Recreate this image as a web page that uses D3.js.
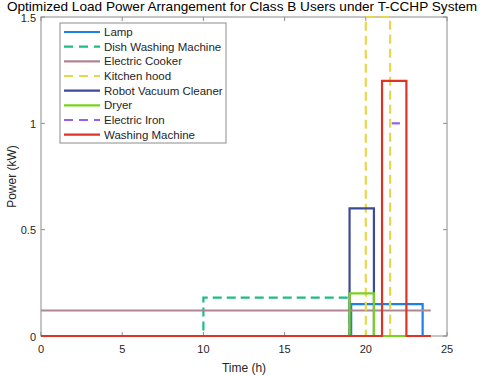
<!DOCTYPE html>
<html>
<head>
<meta charset="utf-8">
<script src="https://cdn.jsdelivr.net/npm/d3@7"></script>
<style>
  body { margin: 0; background: #fff; }
  text { font-family: "Liberation Sans", Arial, sans-serif; fill: #262626; }
</style>
</head>
<body>
<div id="chart"></div>
<script>
// series as step breakpoints (time in h, power in kW)
var names = ["Lamp", "Dish Washing Machine", "Electric Cooker", "Kitchen hood",
             "Robot Vacuum Cleaner", "Dryer", "Electric Iron", "Washing Machine"];
var colors = ["#1a80ec", "#1fb98a", "#b08594", "#e8d64c", "#3d4a9c", "#78d31f", "#9b5cf0", "#df3324"];
var dashed = [false, true, false, true, false, false, true, false];

var lampT = [0, 19.1, 23.5, 24],   lampP = [0, 0.15, 0, 0];
var dishT = [0, 10, 19],           dishP = [0, 0.18, 0];
var cookerT = [0, 24],             cookerP = [0.12, 0.12];
var hoodT = [0, 20, 21.5, 24],     hoodP = [0, 1.5, 0, 0];
var robotT = [0, 19, 20.5, 24],    robotP = [0, 0.6, 0, 0];
var dryerT = [0, 19, 20.5, 24],    dryerP = [0, 0.2, 0, 0];
var ironT = [21.6, 22.1],          ironP = [1, 1];
var washT = [0, 21, 22.5, 24],     washP = [0, 1.2, 0, 0];

var times = [lampT, dishT, cookerT, hoodT, robotT, dryerT, ironT, washT];
var powers = [lampP, dishP, cookerP, hoodP, robotP, dryerP, ironP, washP];

var xTicks = [0, 5, 10, 15, 20, 25];
var yTicks = [0, 0.5, 1, 1.5];

var margin = {top: 17, right: 37, bottom: 41, left: 41},
    W = 484, H = 377,
    width = W - margin.left - margin.right,
    height = H - margin.top - margin.bottom;

var svg = d3.select("#chart").append("svg")
    .attr("width", W).attr("height", H);

var g = svg.append("g")
    .attr("transform", "translate(" + margin.left + "," + margin.top + ")");

var x = d3.scaleLinear().domain([0, 25]).range([0, width]);
var y = d3.scaleLinear().domain([0, 1.5]).range([height, 0]);

// box
g.append("rect")
    .attr("width", width).attr("height", height)
    .attr("fill", "none").attr("stroke", "#8c8c8c").attr("stroke-width", 1);

// ticks on all sides, pointing inward
var tickLen = 4;
xTicks.forEach(function(t) {
    g.append("line").attr("x1", x(t)).attr("x2", x(t)).attr("y1", height).attr("y2", height - tickLen).attr("stroke", "#8c8c8c");
    g.append("line").attr("x1", x(t)).attr("x2", x(t)).attr("y1", 0).attr("y2", tickLen).attr("stroke", "#8c8c8c");
    g.append("text").attr("x", x(t)).attr("y", height + 17)
        .attr("text-anchor", "middle").style("font-size", "11px").text(t);
});
yTicks.forEach(function(t) {
    g.append("line").attr("x1", 0).attr("x2", tickLen).attr("y1", y(t)).attr("y2", y(t)).attr("stroke", "#8c8c8c");
    g.append("line").attr("x1", width).attr("x2", width - tickLen).attr("y1", y(t)).attr("y2", y(t)).attr("stroke", "#8c8c8c");
    g.append("text").attr("x", -5).attr("y", y(t) + 4.5)
        .attr("text-anchor", "end").style("font-size", "11px").text(t);
});

// the load curves
var line = d3.line()
    .x(function(d) { return x(d[0]); })
    .y(function(d) { return y(d[1]); })
    .curve(d3.curveStepAfter);

names.forEach(function(n, i) {
    var pts = times[i].map(function(t, k) { return [t, powers[i][k]]; });
    g.append("path")
        .attr("d", line(pts))
        .attr("fill", "none")
        .attr("stroke", colors[i])
        .attr("stroke-width", 2.2)
        .attr("stroke-dasharray", dashed[i] ? "9,5" : null);
});

// legend
var lg = svg.append("g").attr("transform", "translate(60,23)");
lg.append("rect").attr("width", 166).attr("height", 120)
    .attr("fill", "#fff").attr("stroke", "#8c8c8c");
names.forEach(function(n, i) {
    var yy = 9 + i * 14.67;
    lg.append("line").attr("x1", 4).attr("x2", 40).attr("y1", yy).attr("y2", yy)
        .attr("stroke", colors[i]).attr("stroke-width", 2.2)
        .attr("stroke-dasharray", dashed[i] ? "9,6" : null);
    lg.append("text").attr("x", 44).attr("y", yy + 4)
        .style("font-size", "11.5px").text(n);
});

// labels
svg.append("text").attr("x", W / 2).attr("y", 11)
    .attr("text-anchor", "middle").style("font-size", "13.6px").style("fill", "#000")
    .text("Optimized Load Power Arrangement for Class B Users under T-CCHP System");
svg.append("text").attr("x", margin.left + width / 2).attr("y", 372)
    .attr("text-anchor", "middle").style("font-size", "12px").text("Time (h)");
svg.append("text")
    .attr("transform", "translate(16," + (margin.top + height / 2) + ") rotate(-90)")
    .attr("text-anchor", "middle").style("font-size", "12px").text("Power (kW)");
</script>
</body>
</html>
